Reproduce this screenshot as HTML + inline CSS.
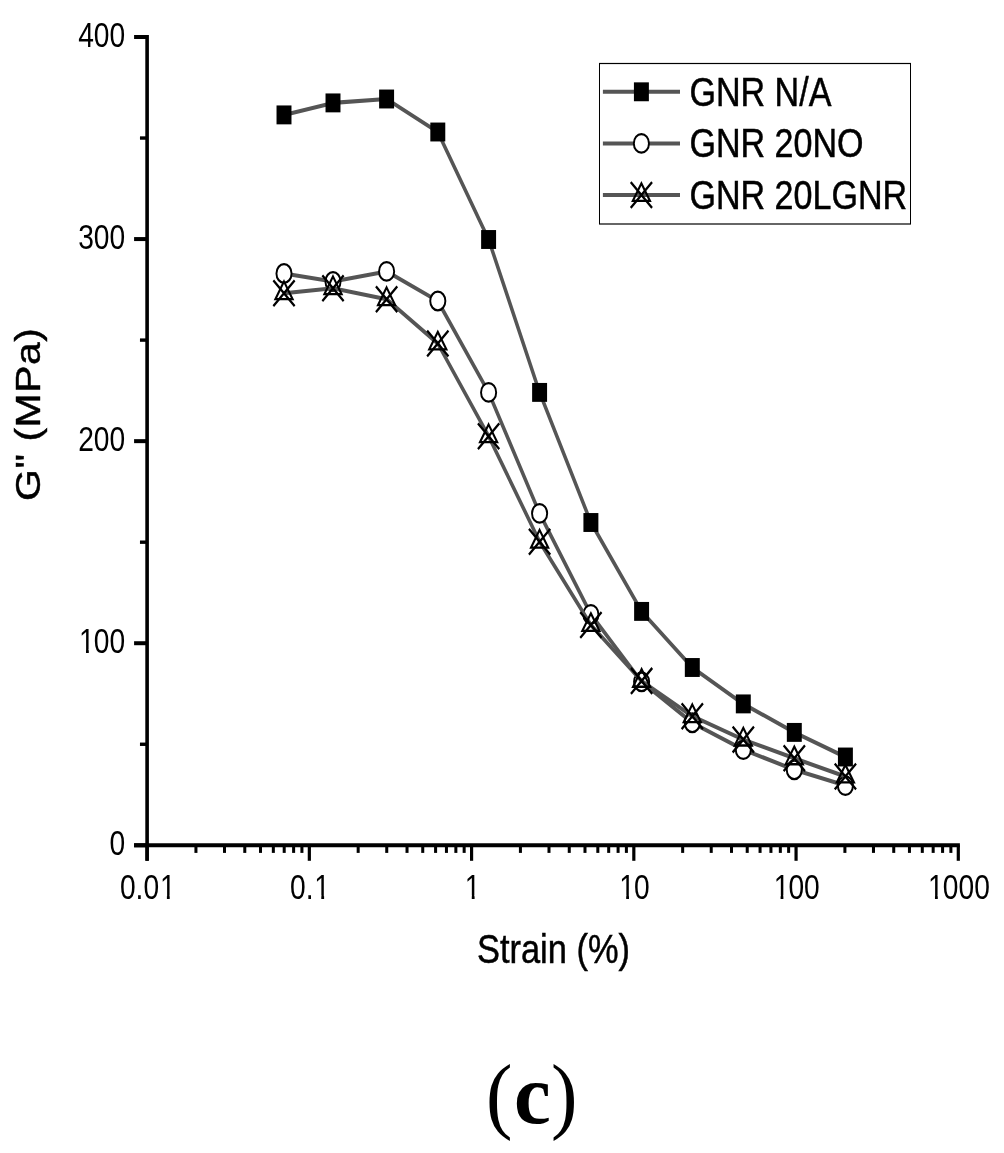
<!DOCTYPE html>
<html><head><meta charset="utf-8"><title>chart</title>
<style>html,body{margin:0;padding:0;background:#fff}svg{display:block;will-change:transform}.t text{stroke:#000;stroke-width:.5px}</style></head>
<body><svg width="1004" height="1153" viewBox="0 0 1004 1153">
<rect width="1004" height="1153" fill="#fff"/>
<g transform="scale(0.84,1)">
<polyline points="338.10,114.90 396.43,102.90 460.24,99.00 521.19,132.00 581.67,239.50 642.38,392.40 703.45,522.50 763.81,611.40 824.17,667.50 884.88,703.90 945.60,732.40 1006.43,757.00" fill="none" stroke="#555" stroke-width="4.1" stroke-linejoin="round"/>
<rect x="329.20" y="105.45" width="17.80" height="18.90" fill="#000"/>
<rect x="387.53" y="93.45" width="17.80" height="18.90" fill="#000"/>
<rect x="451.34" y="89.55" width="17.80" height="18.90" fill="#000"/>
<rect x="512.29" y="122.55" width="17.80" height="18.90" fill="#000"/>
<rect x="572.77" y="230.05" width="17.80" height="18.90" fill="#000"/>
<rect x="633.48" y="382.95" width="17.80" height="18.90" fill="#000"/>
<rect x="694.55" y="513.05" width="17.80" height="18.90" fill="#000"/>
<rect x="754.91" y="601.95" width="17.80" height="18.90" fill="#000"/>
<rect x="815.27" y="658.05" width="17.80" height="18.90" fill="#000"/>
<rect x="875.98" y="694.45" width="17.80" height="18.90" fill="#000"/>
<rect x="936.70" y="722.95" width="17.80" height="18.90" fill="#000"/>
<rect x="997.53" y="747.55" width="17.80" height="18.90" fill="#000"/>
<polyline points="338.10,273.50 396.43,281.50 460.24,271.40 521.19,301.00 581.67,392.40 642.38,513.40 703.45,614.40 763.81,681.80 824.17,722.80 884.88,749.60 945.60,769.80 1006.43,785.60" fill="none" stroke="#555" stroke-width="4.1" stroke-linejoin="round"/>
<ellipse cx="338.10" cy="273.50" rx="9.0" ry="9.3" fill="#fff" stroke="#000" stroke-width="2.3"/>
<ellipse cx="396.43" cy="281.50" rx="9.0" ry="9.3" fill="#fff" stroke="#000" stroke-width="2.3"/>
<ellipse cx="460.24" cy="271.40" rx="9.0" ry="9.3" fill="#fff" stroke="#000" stroke-width="2.3"/>
<ellipse cx="521.19" cy="301.00" rx="9.0" ry="9.3" fill="#fff" stroke="#000" stroke-width="2.3"/>
<ellipse cx="581.67" cy="392.40" rx="9.0" ry="9.3" fill="#fff" stroke="#000" stroke-width="2.3"/>
<ellipse cx="642.38" cy="513.40" rx="9.0" ry="9.3" fill="#fff" stroke="#000" stroke-width="2.3"/>
<ellipse cx="703.45" cy="614.40" rx="9.0" ry="9.3" fill="#fff" stroke="#000" stroke-width="2.3"/>
<ellipse cx="763.81" cy="681.80" rx="9.0" ry="9.3" fill="#fff" stroke="#000" stroke-width="2.3"/>
<ellipse cx="824.17" cy="722.80" rx="9.0" ry="9.3" fill="#fff" stroke="#000" stroke-width="2.3"/>
<ellipse cx="884.88" cy="749.60" rx="9.0" ry="9.3" fill="#fff" stroke="#000" stroke-width="2.3"/>
<ellipse cx="945.60" cy="769.80" rx="9.0" ry="9.3" fill="#fff" stroke="#000" stroke-width="2.3"/>
<ellipse cx="1006.43" cy="785.60" rx="9.0" ry="9.3" fill="#fff" stroke="#000" stroke-width="2.3"/>
<polyline points="338.10,293.20 396.43,288.20 460.24,299.20 521.19,343.50 581.67,436.20 642.38,541.70 703.45,625.00 763.81,680.90 824.17,716.20 884.88,739.60 945.60,758.30 1006.43,776.50" fill="none" stroke="#555" stroke-width="4.1" stroke-linejoin="round"/>
<path d="M338.10 281.50 L348.30 299.10 L327.90 299.10 Z" fill="none" stroke="#000" stroke-width="2.4"/>
<path d="M325.40 280.30 L350.80 306.10 M325.40 306.10 L350.80 280.30" fill="none" stroke="#000" stroke-width="2.6"/>
<path d="M396.43 276.50 L406.63 294.10 L386.23 294.10 Z" fill="none" stroke="#000" stroke-width="2.4"/>
<path d="M383.73 275.30 L409.13 301.10 M383.73 301.10 L409.13 275.30" fill="none" stroke="#000" stroke-width="2.6"/>
<path d="M460.24 287.50 L470.44 305.10 L450.04 305.10 Z" fill="none" stroke="#000" stroke-width="2.4"/>
<path d="M447.54 286.30 L472.94 312.10 M447.54 312.10 L472.94 286.30" fill="none" stroke="#000" stroke-width="2.6"/>
<path d="M521.19 331.80 L531.39 349.40 L510.99 349.40 Z" fill="none" stroke="#000" stroke-width="2.4"/>
<path d="M508.49 330.60 L533.89 356.40 M508.49 356.40 L533.89 330.60" fill="none" stroke="#000" stroke-width="2.6"/>
<path d="M581.67 424.50 L591.87 442.10 L571.47 442.10 Z" fill="none" stroke="#000" stroke-width="2.4"/>
<path d="M568.97 423.30 L594.37 449.10 M568.97 449.10 L594.37 423.30" fill="none" stroke="#000" stroke-width="2.6"/>
<path d="M642.38 530.00 L652.58 547.60 L632.18 547.60 Z" fill="none" stroke="#000" stroke-width="2.4"/>
<path d="M629.68 528.80 L655.08 554.60 M629.68 554.60 L655.08 528.80" fill="none" stroke="#000" stroke-width="2.6"/>
<path d="M703.45 613.30 L713.65 630.90 L693.25 630.90 Z" fill="none" stroke="#000" stroke-width="2.4"/>
<path d="M690.75 612.10 L716.15 637.90 M690.75 637.90 L716.15 612.10" fill="none" stroke="#000" stroke-width="2.6"/>
<path d="M763.81 669.20 L774.01 686.80 L753.61 686.80 Z" fill="none" stroke="#000" stroke-width="2.4"/>
<path d="M751.11 668.00 L776.51 693.80 M751.11 693.80 L776.51 668.00" fill="none" stroke="#000" stroke-width="2.6"/>
<path d="M824.17 704.50 L834.37 722.10 L813.97 722.10 Z" fill="none" stroke="#000" stroke-width="2.4"/>
<path d="M811.47 703.30 L836.87 729.10 M811.47 729.10 L836.87 703.30" fill="none" stroke="#000" stroke-width="2.6"/>
<path d="M884.88 727.90 L895.08 745.50 L874.68 745.50 Z" fill="none" stroke="#000" stroke-width="2.4"/>
<path d="M872.18 726.70 L897.58 752.50 M872.18 752.50 L897.58 726.70" fill="none" stroke="#000" stroke-width="2.6"/>
<path d="M945.60 746.60 L955.80 764.20 L935.40 764.20 Z" fill="none" stroke="#000" stroke-width="2.4"/>
<path d="M932.90 745.40 L958.30 771.20 M932.90 771.20 L958.30 745.40" fill="none" stroke="#000" stroke-width="2.6"/>
<path d="M1006.43 764.80 L1016.63 782.40 L996.23 782.40 Z" fill="none" stroke="#000" stroke-width="2.4"/>
<path d="M993.73 763.60 L1019.13 789.40 M993.73 789.40 L1019.13 763.60" fill="none" stroke="#000" stroke-width="2.6"/>
<g stroke="#000" fill="none">
<line x1="175.12" y1="35.00" x2="175.12" y2="860.80" stroke-width="4.3"/>
<line x1="159.62" y1="845.30" x2="1142.73" y2="845.30" stroke-width="4"/>
<line x1="159.62" y1="845.30" x2="175.12" y2="845.30" stroke-width="4"/>
<line x1="166.62" y1="744.26" x2="175.12" y2="744.26" stroke-width="3.4"/>
<line x1="159.62" y1="643.22" x2="175.12" y2="643.22" stroke-width="4"/>
<line x1="166.62" y1="542.19" x2="175.12" y2="542.19" stroke-width="3.4"/>
<line x1="159.62" y1="441.15" x2="175.12" y2="441.15" stroke-width="4"/>
<line x1="166.62" y1="340.11" x2="175.12" y2="340.11" stroke-width="3.4"/>
<line x1="159.62" y1="239.07" x2="175.12" y2="239.07" stroke-width="4"/>
<line x1="166.62" y1="138.04" x2="175.12" y2="138.04" stroke-width="3.4"/>
<line x1="159.62" y1="37.00" x2="175.12" y2="37.00" stroke-width="4"/>
<line x1="175.12" y1="845.30" x2="175.12" y2="860.80" stroke-width="3.8"/>
<line x1="233.26" y1="845.30" x2="233.26" y2="852.90" stroke-width="3.6"/>
<line x1="267.27" y1="845.30" x2="267.27" y2="852.90" stroke-width="3.6"/>
<line x1="291.40" y1="845.30" x2="291.40" y2="852.90" stroke-width="3.6"/>
<line x1="310.12" y1="845.30" x2="310.12" y2="852.90" stroke-width="3.6"/>
<line x1="325.41" y1="845.30" x2="325.41" y2="852.90" stroke-width="3.6"/>
<line x1="338.34" y1="845.30" x2="338.34" y2="852.90" stroke-width="3.6"/>
<line x1="349.54" y1="845.30" x2="349.54" y2="852.90" stroke-width="3.6"/>
<line x1="359.42" y1="845.30" x2="359.42" y2="852.90" stroke-width="3.6"/>
<line x1="368.26" y1="845.30" x2="368.26" y2="860.80" stroke-width="3.8"/>
<line x1="426.40" y1="845.30" x2="426.40" y2="852.90" stroke-width="3.6"/>
<line x1="460.41" y1="845.30" x2="460.41" y2="852.90" stroke-width="3.6"/>
<line x1="484.55" y1="845.30" x2="484.55" y2="852.90" stroke-width="3.6"/>
<line x1="503.26" y1="845.30" x2="503.26" y2="852.90" stroke-width="3.6"/>
<line x1="518.56" y1="845.30" x2="518.56" y2="852.90" stroke-width="3.6"/>
<line x1="531.49" y1="845.30" x2="531.49" y2="852.90" stroke-width="3.6"/>
<line x1="542.69" y1="845.30" x2="542.69" y2="852.90" stroke-width="3.6"/>
<line x1="552.57" y1="845.30" x2="552.57" y2="852.90" stroke-width="3.6"/>
<line x1="561.40" y1="845.30" x2="561.40" y2="860.80" stroke-width="3.8"/>
<line x1="619.55" y1="845.30" x2="619.55" y2="852.90" stroke-width="3.6"/>
<line x1="653.56" y1="845.30" x2="653.56" y2="852.90" stroke-width="3.6"/>
<line x1="677.69" y1="845.30" x2="677.69" y2="852.90" stroke-width="3.6"/>
<line x1="696.41" y1="845.30" x2="696.41" y2="852.90" stroke-width="3.6"/>
<line x1="711.70" y1="845.30" x2="711.70" y2="852.90" stroke-width="3.6"/>
<line x1="724.63" y1="845.30" x2="724.63" y2="852.90" stroke-width="3.6"/>
<line x1="735.83" y1="845.30" x2="735.83" y2="852.90" stroke-width="3.6"/>
<line x1="745.71" y1="845.30" x2="745.71" y2="852.90" stroke-width="3.6"/>
<line x1="754.55" y1="845.30" x2="754.55" y2="860.80" stroke-width="3.8"/>
<line x1="812.69" y1="845.30" x2="812.69" y2="852.90" stroke-width="3.6"/>
<line x1="846.70" y1="845.30" x2="846.70" y2="852.90" stroke-width="3.6"/>
<line x1="870.83" y1="845.30" x2="870.83" y2="852.90" stroke-width="3.6"/>
<line x1="889.55" y1="845.30" x2="889.55" y2="852.90" stroke-width="3.6"/>
<line x1="904.84" y1="845.30" x2="904.84" y2="852.90" stroke-width="3.6"/>
<line x1="917.77" y1="845.30" x2="917.77" y2="852.90" stroke-width="3.6"/>
<line x1="928.97" y1="845.30" x2="928.97" y2="852.90" stroke-width="3.6"/>
<line x1="938.85" y1="845.30" x2="938.85" y2="852.90" stroke-width="3.6"/>
<line x1="947.69" y1="845.30" x2="947.69" y2="860.80" stroke-width="3.8"/>
<line x1="1005.83" y1="845.30" x2="1005.83" y2="852.90" stroke-width="3.6"/>
<line x1="1039.84" y1="845.30" x2="1039.84" y2="852.90" stroke-width="3.6"/>
<line x1="1063.97" y1="845.30" x2="1063.97" y2="852.90" stroke-width="3.6"/>
<line x1="1082.69" y1="845.30" x2="1082.69" y2="852.90" stroke-width="3.6"/>
<line x1="1097.98" y1="845.30" x2="1097.98" y2="852.90" stroke-width="3.6"/>
<line x1="1110.92" y1="845.30" x2="1110.92" y2="852.90" stroke-width="3.6"/>
<line x1="1122.12" y1="845.30" x2="1122.12" y2="852.90" stroke-width="3.6"/>
<line x1="1132.00" y1="845.30" x2="1132.00" y2="852.90" stroke-width="3.6"/>
<line x1="1140.83" y1="845.30" x2="1140.83" y2="860.80" stroke-width="3.8"/>
</g>
<g font-family="Liberation Sans, sans-serif" font-size="34.6" fill="#000">
<g transform="translate(149.05,855.00) scale(0.97,1)"><text x="-19.24" y="0">0</text></g>
<g transform="translate(149.05,652.92) scale(0.97,1)"><text x="-56.63 -38.49 -19.24" y="0">100</text><rect x="-55.28" y="-3.88" width="7.15" height="5.18" fill="#fff"/><rect x="-44.67" y="-3.88" width="7.08" height="5.18" fill="#fff"/></g>
<g transform="translate(149.05,450.85) scale(0.97,1)"><text x="-57.73 -38.49 -19.24" y="0">200</text></g>
<g transform="translate(149.05,248.77) scale(0.97,1)"><text x="-57.73 -38.49 -19.24" y="0">300</text></g>
<g transform="translate(149.05,46.70) scale(0.97,1)"><text x="-57.73 -38.49 -19.24" y="0">400</text></g>
<g transform="translate(175.37,899.30) scale(0.97,1)"><text x="-33.67 -14.43 -4.82 15.53" y="0">0.01</text><rect x="16.88" y="-3.88" width="7.15" height="5.18" fill="#fff"/><rect x="27.49" y="-3.88" width="7.08" height="5.18" fill="#fff"/></g>
<g transform="translate(368.51,899.30) scale(0.97,1)"><text x="-24.05 -4.81 5.91" y="0">0.1</text><rect x="7.26" y="-3.88" width="7.15" height="5.18" fill="#fff"/><rect x="17.86" y="-3.88" width="7.08" height="5.18" fill="#fff"/></g>
<g transform="translate(561.65,899.30) scale(0.97,1)"><text x="-8.52" y="0">1</text><rect x="-7.17" y="-3.88" width="7.15" height="5.18" fill="#fff"/><rect x="3.44" y="-3.88" width="7.08" height="5.18" fill="#fff"/></g>
<g transform="translate(754.80,899.30) scale(0.97,1)"><text x="-18.14 0.00" y="0">10</text><rect x="-16.79" y="-3.88" width="7.15" height="5.18" fill="#fff"/><rect x="-6.19" y="-3.88" width="7.08" height="5.18" fill="#fff"/></g>
<g transform="translate(947.94,899.30) scale(0.97,1)"><text x="-27.77 -9.62 9.62" y="0">100</text><rect x="-26.42" y="-3.88" width="7.15" height="5.18" fill="#fff"/><rect x="-15.81" y="-3.88" width="7.08" height="5.18" fill="#fff"/></g>
<g transform="translate(1141.08,899.30) scale(0.97,1)"><text x="-37.39 -19.24 0.00 19.24" y="0">1000</text><rect x="-36.04" y="-3.88" width="7.15" height="5.18" fill="#fff"/><rect x="-25.43" y="-3.88" width="7.08" height="5.18" fill="#fff"/></g>
</g>
<g font-family="Liberation Sans, sans-serif" font-size="41" fill="#000" class="t">
<text x="658.93" y="962.6" text-anchor="middle">Strain (%)</text>
<text transform="translate(48.10,414.2) rotate(-90)" text-anchor="middle" letter-spacing="0.5">G&quot; (MPa)</text>
<rect x="713.69" y="63.5" width="370.24" height="160.5" fill="#fff" stroke="#000" stroke-width="1.2"/>
<line x1="717.74" y1="91.80" x2="809.52" y2="91.80" stroke="#555" stroke-width="4"/>
<rect x="754.67" y="82.35" width="17.80" height="18.90" fill="#000"/>
<text transform="translate(820.71,105.70) scale(0.99,1)">GNR N/A</text>
<line x1="717.74" y1="143.40" x2="809.52" y2="143.40" stroke="#555" stroke-width="4"/>
<ellipse cx="763.57" cy="143.40" rx="9.0" ry="9.3" fill="#fff" stroke="#000" stroke-width="2.3"/>
<text transform="translate(820.71,157.30) scale(0.99,1)">GNR 20NO</text>
<line x1="717.74" y1="195.00" x2="809.52" y2="195.00" stroke="#555" stroke-width="4"/>
<path d="M763.57 183.30 L773.77 200.90 L753.37 200.90 Z" fill="none" stroke="#000" stroke-width="2.4"/>
<path d="M750.87 182.10 L776.27 207.90 M750.87 207.90 L776.27 182.10" fill="none" stroke="#000" stroke-width="2.6"/>
<text transform="translate(820.71,208.90) scale(0.99,1)">GNR 20LGNR</text>
</g>
</g>
<g font-family="Liberation Serif, serif" fill="#000">
<text transform="translate(485.9,1122.7) scale(0.935,1)" font-size="85">(</text>
<text transform="translate(513.9,1122.7) scale(0.975,1)" font-size="85" font-weight="bold">c</text>
<text transform="translate(550.9,1122.7) scale(0.935,1)" font-size="85">)</text>
</g>
</svg></body></html>
